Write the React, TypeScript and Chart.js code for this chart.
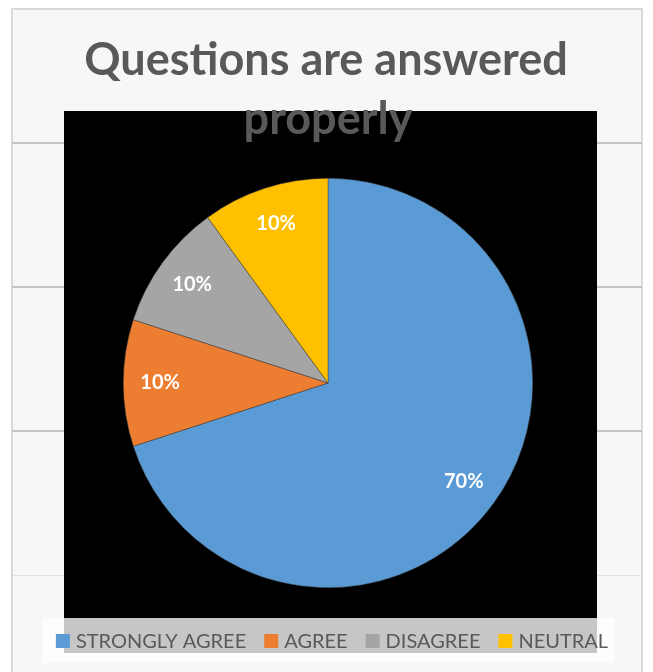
import React, { useEffect, useRef } from "react";
import { Chart, registerables } from "chart.js";

Chart.register(...registerables);

const titleLines = ["Questions are answered", "properly"];
const categories = ["STRONGLY AGREE", "AGREE", "DISAGREE", "NEUTRAL"];
const shares = [70, 10, 10, 10];
const sliceColors = ["#5B9BD5", "#ED7D31", "#A5A5A5", "#FFC000"];

const W = 653;
const H = 672;

const backdropPlugin = {
  id: "backdrop",
  beforeDraw(chart: any) {
    const ctx = chart.ctx;
    ctx.save();
    ctx.fillStyle = "#ffffff";
    ctx.fillRect(0, 0, W, H);
    // frame
    ctx.fillStyle = "#f7f7f7";
    ctx.fillRect(11, 8, 632, H - 8);
    ctx.strokeStyle = "#d9d9d9";
    ctx.lineWidth = 2;
    ctx.beginPath();
    ctx.moveTo(12, H);
    ctx.lineTo(12, 9);
    ctx.lineTo(642, 9);
    ctx.lineTo(642, H);
    ctx.stroke();
    // horizontal rules
    ctx.strokeStyle = "#c4c4c4";
    ctx.lineWidth = 2;
    [143, 287, 431].forEach((y) => {
      ctx.beginPath();
      ctx.moveTo(12, y);
      ctx.lineTo(642, y);
      ctx.stroke();
    });
    ctx.strokeStyle = "#e2e2e2";
    ctx.lineWidth = 1;
    ctx.beginPath();
    ctx.moveTo(12, 575.5);
    ctx.lineTo(642, 575.5);
    ctx.stroke();
    // legend white panel
    ctx.fillStyle = "#fdfdfd";
    ctx.fillRect(43, 618, 572, 45);
    // black plot panel
    ctx.fillStyle = "#000000";
    ctx.fillRect(64, 111, 533, 507);
    // legend grey strip
    ctx.fillStyle = "#c6c6c6";
    ctx.fillRect(64, 618, 533, 35);
    // title
    ctx.fillStyle = "#595959";
    ctx.font = "bold 45px Lato";
    ctx.textAlign = "center";
    ctx.textBaseline = "alphabetic";
    ctx.fillText(titleLines[0], 326, 75);
    ctx.fillText(titleLines[1], 328, 134);
    ctx.restore();
  },
  afterDatasetsDraw(chart: any) {
    const ctx = chart.ctx;
    const meta = chart.getDatasetMeta(0);
    const ds = chart.data.datasets[0];
    ctx.save();
    // slice labels
    ctx.fillStyle = "#ffffff";
    ctx.font = "bold 20px Lato";
    ctx.textAlign = "center";
    ctx.textBaseline = "middle";
    meta.data.forEach((arc: any, i: number) => {
      const p = arc.getProps(["x", "y", "startAngle", "endAngle", "outerRadius"], true);
      const mid = (p.startAngle + p.endAngle) / 2;
      const r = p.outerRadius * 0.82;
      ctx.fillText(ds.data[i] + "%", p.x + Math.cos(mid) * r, p.y + Math.sin(mid) * r);
    });
    // legend
    ctx.font = "20px Lato";
    ctx.textAlign = "left";
    ctx.textBaseline = "alphabetic";
    const box = 14;
    const gap = 6;
    const itemGap = 18;
    const labels: string[] = chart.data.labels;
    const widths = labels.map((l) => box + gap + ctx.measureText(l).width);
    const total = widths.reduce((a, b) => a + b, 0) + itemGap * (labels.length - 1);
    let x = 332 - total / 2;
    labels.forEach((l, i) => {
      ctx.fillStyle = ds.backgroundColor[i];
      ctx.fillRect(x, 634, box, box);
      ctx.fillStyle = "#595959";
      ctx.fillText(l, x + box + gap, 648);
      x += widths[i] + itemGap;
    });
    ctx.restore();
  },
};

export default function App() {
  const ref = useRef<HTMLCanvasElement>(null);
  useEffect(() => {
    if (!ref.current) return;
    const chart = new Chart(ref.current, {
      type: "pie",
      data: {
        labels: categories,
        datasets: [
          {
            data: shares,
            backgroundColor: sliceColors,
            borderColor: "rgba(60,60,60,0.8)",
            borderWidth: 0.6,
          },
        ],
      },
      options: {
        responsive: false,
        animation: false,
        layout: { padding: { left: 123, right: 120, top: 177, bottom: 83 } },
        plugins: {
          legend: { display: false },
          title: { display: false },
          tooltip: { enabled: false },
        },
      },
      plugins: [backdropPlugin],
    });
    return () => chart.destroy();
  }, []);
  return (
    <div style={{ position: "absolute", left: 0, top: 0, width: W, height: H }}>
      <canvas ref={ref} width={W} height={H} style={{ display: "block", width: W, height: H }} />
    </div>
  );
}
